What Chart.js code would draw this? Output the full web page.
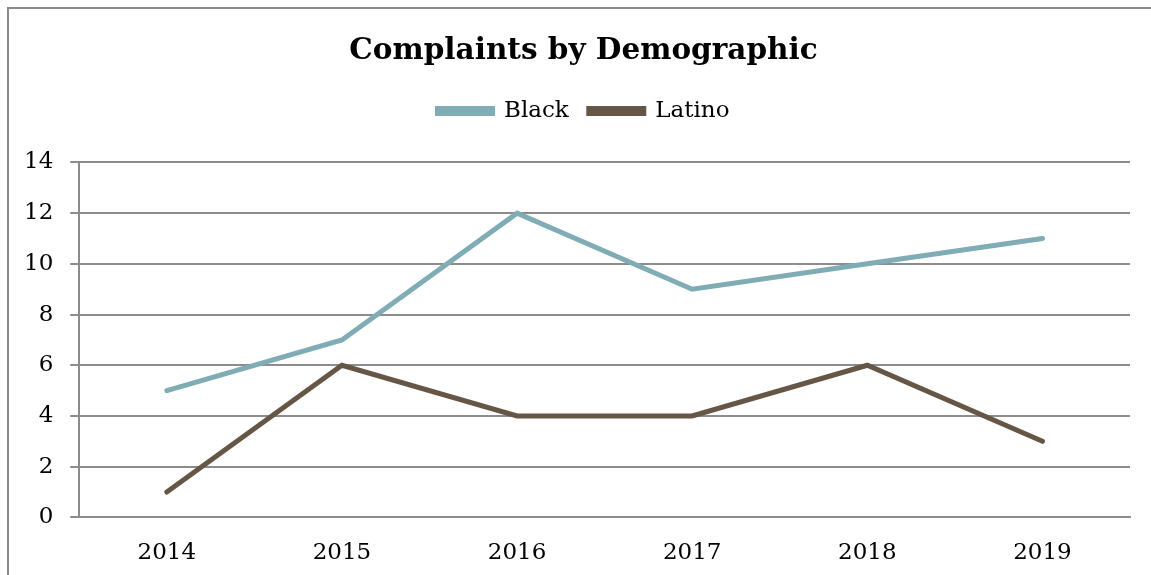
<!DOCTYPE html>
<html>
<head>
<meta charset="utf-8">
<script src="https://cdn.jsdelivr.net/npm/chart.js@4/dist/chart.umd.min.js"></script>
<style>
  html, body { margin: 0; padding: 0; background: #fff; overflow: hidden; }
  canvas { display: block; }
</style>
</head>
<body>
<canvas id="chart" width="1151" height="575"></canvas>
<script>
// ── Data ──
const years = ['2014', '2015', '2016', '2017', '2018', '2019'];
const blackComplaints = [5, 7, 12, 9, 10, 11];
const latinoComplaints = [1, 6, 4, 4, 6, 3];
const yTicks = [0, 2, 4, 6, 8, 10, 12, 14];

const serif = "'DejaVu Serif', serif";
const gridColor = '#8c8c8c';

// extra room below the legend
const legendGap = {
    id: 'legendGap',
    beforeInit(chart) {
        const fit = chart.legend.fit;
        chart.legend.fit = function () {
            fit.bind(chart.legend)();
            this.height += 30;
        };
    },
    // title + legend are centred on the outer frame, which runs past the right edge
    afterLayout(chart) {
        [chart.titleBlock, chart.legend].forEach(b => {
            if (!b) return;
            b.left += 15;
            b.right += 15;
        });
    }
};

// outer chart frame: only left and top edges fall inside the picture
const frame = {
    id: 'frame',
    beforeDraw(chart) {
        const ctx = chart.ctx;
        ctx.save();
        ctx.strokeStyle = '#8a8a8a';
        ctx.lineWidth = 2;
        ctx.beginPath();
        ctx.moveTo(8, chart.height);
        ctx.lineTo(8, 8);
        ctx.lineTo(chart.width, 8);
        ctx.stroke();
        ctx.restore();
    }
};

new Chart(document.getElementById('chart'), {
    type: 'line',
    data: {
        labels: years,
        datasets: [
            {
                label: 'Black',
                data: blackComplaints,
                borderColor: '#80acb5',
                backgroundColor: '#80acb5',
                borderWidth: 5,
                pointRadius: 0,
                tension: 0,
                borderCapStyle: 'round',
                borderJoinStyle: 'miter'
            },
            {
                label: 'Latino',
                data: latinoComplaints,
                borderColor: '#655646',
                backgroundColor: '#655646',
                borderWidth: 5,
                pointRadius: 0,
                tension: 0,
                borderCapStyle: 'round',
                borderJoinStyle: 'miter'
            }
        ]
    },
    options: {
        responsive: false,
        animation: false,
        layout: { padding: { left: 7, right: 21, top: 24, bottom: -14 } },
        plugins: {
            title: {
                display: true,
                text: 'Complaints by Demographic',
                color: '#000',
                font: { family: serif, size: 29.5, weight: 'bold' },
                padding: { top: 10, bottom: 10 }
            },
            legend: {
                position: 'top',
                labels: {
                    color: '#000',
                    font: { family: serif, size: 23 },
                    boxWidth: 55,
                    boxHeight: 5,
                    padding: 20
                }
            },
            tooltip: { enabled: false }
        },
        scales: {
            x: {
                offset: true,
                grid: { display: false, drawTicks: false },
                border: { color: gridColor, width: 2 },
                ticks: {
                    color: '#000',
                    padding: 22,
                    font: { family: serif, size: 23 }
                }
            },
            y: {
                min: 0,
                max: 14,
                afterBuildTicks: axis => { axis.ticks = yTicks.map(v => ({ value: v })); },
                grid: { color: gridColor, lineWidth: 2, tickLength: 9 },
                border: { color: gridColor, width: 2 },
                ticks: {
                    color: '#000',
                    padding: 17,
                    font: { family: serif, size: 23 }
                }
            }
        }
    },
    plugins: [legendGap, frame]
});
</script>
</body>
</html>
